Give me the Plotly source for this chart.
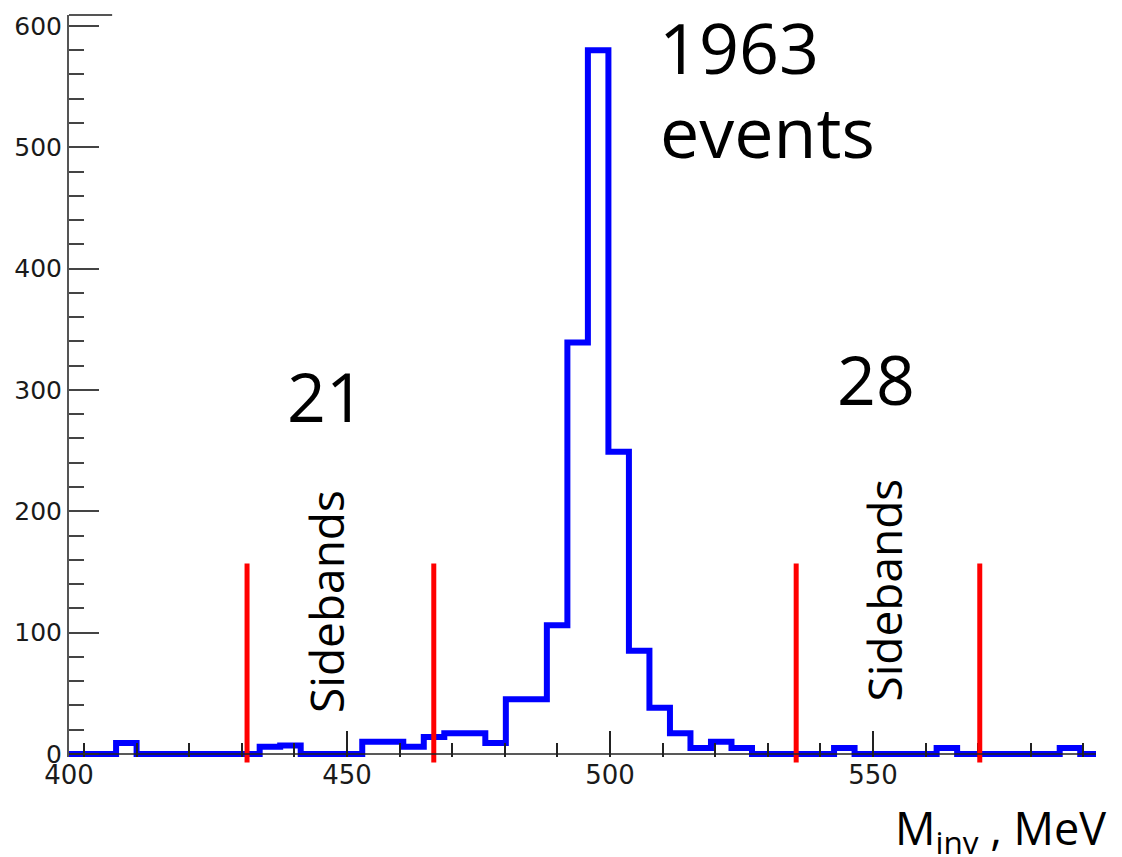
import numpy as np
import plotly.graph_objects as go

# --- histogram of invariant mass (MeV) ---
FIRST_EDGE = 398.3          # lower edge of the first bin
BIN_WIDTH = 3.9             # MeV per bin
counts = [0, 0, 9, 0, 0, 0, 0, 0, 0, 6,
          7, 0, 0, 0, 10, 10, 6, 14, 17, 17,
          9, 45, 45, 106, 339, 580, 249, 85, 38, 17,
          5, 10, 5, 0, 0, 0, 0, 5, 0, 0,
          0, 0, 5, 0, 0, 0, 0, 0, 5, 0]

# sideband boundaries (MeV)
sideband_edges = [431.0, 466.5, 535.4, 570.3]
sideband_line_low = -7.0
sideband_line_high = 157.0

# axis ranges
X_MIN, X_MAX = 397.15, 592.4
Y_LOW, Y_TOP = -2.5, 609.0

x_tick_vals = [X_MIN, 450, 500, 550]
x_tick_text = ["400", "450", "500", "550"]
y_tick_vals = [0, 100, 200, 300, 400, 500, 600]

edges = FIRST_EDGE + BIN_WIDTH * np.arange(len(counts) + 1)

# step outline of the histogram, starting at the left axis edge
step_x = [X_MIN] + list(edges[1:-1]) + [edges[-1]]
step_y = [counts[0]] + list(counts[1:]) + [counts[-1]]

fig = go.Figure()
fig.add_trace(go.Scatter(
    x=step_x, y=step_y, mode="lines",
    line=dict(color="#0000ff", width=6, shape="hv"),
    hoverinfo="skip", showlegend=False,
))

def ypaper(v):
    return (v - Y_LOW) / (Y_TOP - Y_LOW)

shapes = []
for xv in sideband_edges:
    shapes.append(dict(type="line", xref="x", yref="paper",
                       x0=xv, x1=xv,
                       y0=ypaper(sideband_line_low), y1=ypaper(sideband_line_high),
                       line=dict(color="#ff0000", width=5), layer="above"))
# x axis line at zero
shapes.append(dict(type="line", xref="x", yref="y", x0=X_MIN, x1=X_MAX, y0=0, y1=0,
                   line=dict(color="#222222", width=1.5), layer="above"))
# short piece of the frame top
shapes.append(dict(type="line", xref="paper", yref="paper", x0=0, x1=0.042, y0=1, y1=1,
                   line=dict(color="#555555", width=2), layer="above"))

TXT = "Open Sans"
annotations = [
    dict(x=510.8, y=558, text="1963", xanchor="left", yanchor="middle",
         font=dict(family=TXT, size=70, color="black")),
    dict(x=511.0, y=489, text="events", xanchor="left", yanchor="middle",
         font=dict(family=TXT, size=70, color="black")),
    dict(x=447.9, y=271, text="21", xanchor="center", yanchor="middle",
         font=dict(family=TXT, size=68, color="black")),
    dict(x=552.4, y=285, text="28", xanchor="center", yanchor="middle",
         font=dict(family=TXT, size=68, color="black")),
    dict(x=448.0, y=101, text="Sidebands", textangle=-90, xanchor="center", yanchor="middle",
         font=dict(family=TXT, size=46, color="black")),
    dict(x=554.0, y=110, text="Sidebands", textangle=-90, xanchor="center", yanchor="middle",
         font=dict(family=TXT, size=46, color="black")),
    dict(xref="paper", yref="paper", x=(903 - 69) / 1027, y=(757 - 825) / 744,
         text="M<sub>inv</sub> , MeV", xanchor="left", yanchor="top",
         font=dict(family=TXT, size=45, color="black")),
]

fig.update_layout(
    width=1122, height=857,
    margin=dict(l=69, r=26, t=13, b=100),
    paper_bgcolor="white", plot_bgcolor="white",
    shapes=shapes, annotations=annotations,
    xaxis=dict(
        range=[X_MIN, X_MAX], showgrid=False, zeroline=False, showline=False,
        tickmode="array", tickvals=x_tick_vals, ticktext=x_tick_text,
        ticks="inside", ticklen=26, tickwidth=1.5, tickcolor="#222222",
        minor=dict(tickmode="linear", tick0=400, dtick=10, ticks="inside",
                   ticklen=14, tickwidth=1.5, tickcolor="#222222"),
        tickfont=dict(family="DejaVu Sans", size=26, color="#1a1a1a"),
    ),
    yaxis=dict(
        range=[Y_LOW, Y_TOP], showgrid=False, zeroline=False,
        showline=True, linecolor="#555555", linewidth=2,
        tickmode="array", tickvals=y_tick_vals,
        ticks="inside", ticklen=30, tickwidth=2, tickcolor="#444444",
        minor=dict(tickmode="linear", tick0=0, dtick=20, ticks="inside",
                   ticklen=15, tickwidth=2, tickcolor="#444444"),
        tickfont=dict(family="DejaVu Sans", size=25, color="#1a1a1a"),
    ),
)

fig.write_html("out.html")
